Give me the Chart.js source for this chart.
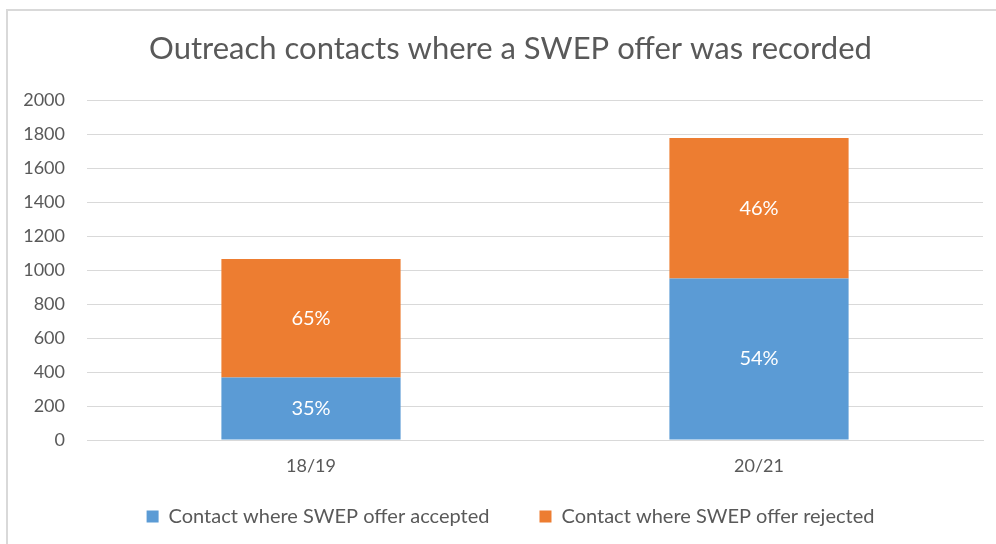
<!DOCTYPE html>
<html>
<head>
<meta charset="utf-8">
<script src="https://cdn.jsdelivr.net/npm/chart.js@4"></script>
<style>
  html, body { margin: 0; padding: 0; background: #fff; }
  #wrap { position: relative; width: 996px; height: 544px; overflow: hidden; }
  #frame { position: absolute; left: 6px; top: 9px; width: 1000px; height: 600px;
           border-top: 2px solid #d9d9d9; border-left: 2px solid #d9d9d9; }
  canvas { position: absolute; left: 0; top: 0; }
</style>
</head>
<body>
<div id="wrap">
  <div id="frame"></div>
  <canvas id="chart" width="1021" height="544"></canvas>
</div>
<script>
// datos
const years = ['18/19', '20/21'];
const accepted = [368, 950];
const rejected = [697, 826];
const acceptedPct = ['35%', '54%'];
const rejectedPct = ['65%', '46%'];
const seriesNames = ['Contact where SWEP offer accepted', 'Contact where SWEP offer rejected'];
const yTicks = [0, 2000, 200];

const grey = '#595959';
const fontName = 'Lato';

// escribe el porcentaje en medio de cada barra
const pctLabels = {
  id: 'pctLabels',
  afterDatasetsDraw(chart) {
    const ctx = chart.ctx;
    ctx.save();
    ctx.font = '20px ' + fontName;
    ctx.fillStyle = '#ffffff';
    ctx.textAlign = 'center';
    ctx.textBaseline = 'middle';
    chart.data.datasets.forEach((ds, i) => {
      chart.getDatasetMeta(i).data.forEach((bar, j) => {
        ctx.fillText(ds.pct[j], bar.x, (bar.y + bar.base) / 2);
      });
    });
    ctx.restore();
  }
};

const chart = new Chart(document.getElementById('chart'), {
  type: 'bar',
  data: {
    labels: years,
    datasets: [
      { label: seriesNames[0], data: accepted, pct: acceptedPct, backgroundColor: '#5b9bd5' },
      { label: seriesNames[1], data: rejected, pct: rejectedPct, backgroundColor: '#ed7d31' }
    ]
  },
  options: {
    responsive: false,
    animation: false,
    layout: { padding: { left: 0, right: 0, top: 0, bottom: 7.5 } },
    datasets: { bar: { categoryPercentage: 1, barPercentage: 0.4 } },
    plugins: {
      title: {
        display: true,
        text: 'Outreach contacts where a SWEP offer was recorded',
        color: grey,
        font: { family: fontName, size: 31, weight: 'normal' },
        padding: { top: 30, bottom: 32.8 }
      },
      legend: {
        position: 'bottom',
        labels: {
          color: grey,
          font: { family: fontName, size: 20 },
          boxWidth: 12,
          boxHeight: 12,
          padding: 50
        }
      },
      tooltip: { enabled: false }
    },
    scales: {
      x: {
        stacked: true,
        grid: { display: false, drawTicks: false },
        border: { color: '#d9d9d9' },
        // mirror para que la etiqueta no se recorte
        ticks: { color: grey, font: { family: fontName, size: 18 }, mirror: true, padding: -37 },
        afterFit: (s) => { s.height = 16.5; }
      },
      y: {
        stacked: true,
        min: yTicks[0],
        max: yTicks[1],
        grid: { color: '#d9d9d9', drawTicks: false },
        border: { display: false },
        ticks: {
          stepSize: yTicks[2], color: grey, font: { family: fontName, size: 18 }, padding: 22,
          callback: (v) => String(v)
        },
        afterFit: (s) => { s.width = 87; }
      },
      // eje vacio a la derecha, solo para dejar espacio
      y2: {
        position: 'right',
        grid: { display: false },
        border: { display: false },
        ticks: { display: false },
        afterFit: (s) => { s.width = 38; }
      }
    }
  },
  plugins: [pctLabels]
});
</script>
</body>
</html>
